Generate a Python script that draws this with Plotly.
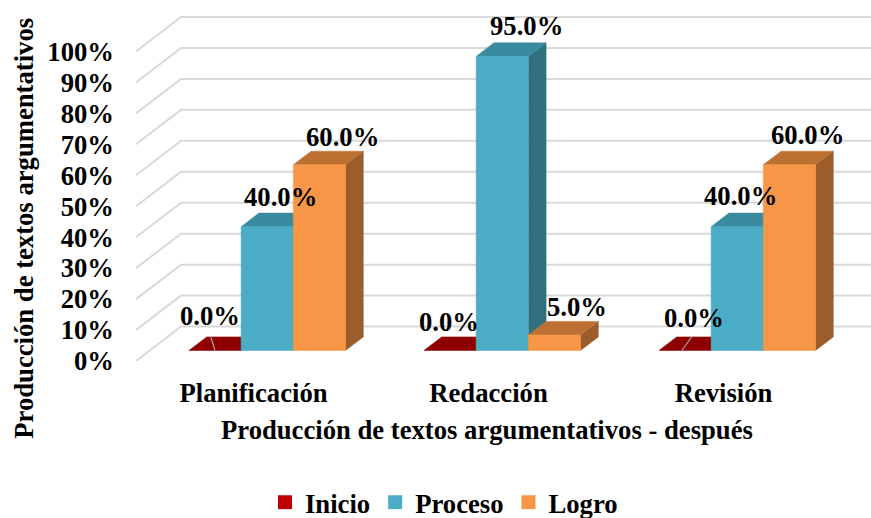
import plotly.graph_objects as go

categories = ["Planificación", "Redacción", "Revisión"]
series_names = ["Inicio", "Proceso", "Logro"]
inicio = [0, 0, 0]
proceso = [40, 95, 40]
logro = [60, 5, 60]
y_ticks = list(range(0, 101, 10))

FRONT = ["#C00000", "#4BACC6", "#F79646"]
TOP = ["#8E0000", "#3A8AA0", "#BC7132"]
SIDE = ["#7A0000", "#31707F", "#9C5D2B"]
GRID = "#D9D9D9"
FONT = "Liberation Serif"
SIZE = 26.67

# pixel scale of the drawing, used only to set up the projection
W, H = 871, 518
LEFT, BASE, TOPPX = 136, 361.5, 10
CAT_PX, PCT_PX = 235, 3.1
DX, DY = 45 / CAT_PX, 34.5 / PCT_PX      # full floor depth in axis units
BAR_W = 52.2 / CAT_PX
GAP, BAR_D = 0.305, 0.395                # bar start / bar depth, as share of floor depth

X0 = -0.5
X1 = X0 + (W - LEFT) / CAT_PX
Y1 = (BASE - TOPPX) / PCT_PX


def proj(x, y, d):
    return x + d * DX, y + d * DY


def poly(pts, color):
    xs = [p[0] for p in pts] + [pts[0][0]]
    ys = [p[1] for p in pts] + [pts[0][1]]
    return go.Scatter(x=xs, y=ys, mode="lines", fill="toself", fillcolor=color,
                      line=dict(color=color, width=0.5), showlegend=False,
                      hoverinfo="skip")


fig = go.Figure()

# walls: gridlines on the side and back planes
for v in y_ticks:
    a = proj(X0, v, 0)
    b = proj(X0, v, 1)
    fig.add_trace(go.Scatter(x=[a[0], b[0], X1 + 1], y=[a[1], b[1], b[1]], mode="lines",
                             line=dict(color=GRID, width=2), showlegend=False,
                             hoverinfo="skip"))

values = [inicio, proceso, logro]
labels_xshift = [[-5, -1, 9], [13, 24, 3], [23, 23, 18]]
labels_yshift = [[34, 28, 32], [30, 30, 31], [28, 28, 30]]
annotations = []

for c in range(len(categories)):
    for s in range(len(series_names)):
        v = values[s][c]
        xl = c + (s - 1.5) * BAR_W
        xr = xl + BAR_W
        f0 = GAP
        f1 = GAP + BAR_D
        if v > 0:
            fig.add_trace(poly([proj(xr, 0, f0), proj(xr, v, f0), proj(xr, v, f1), proj(xr, 0, f1)], SIDE[s]))
        fig.add_trace(poly([proj(xl, v, f0), proj(xr, v, f0), proj(xr, v, f1), proj(xl, v, f1)], TOP[s]))
        if v > 0:
            fig.add_trace(poly([proj(xl, 0, f0), proj(xr, 0, f0), proj(xr, v, f0), proj(xl, v, f0)], FRONT[s]))
        lx, ly = proj(xl + BAR_W / 2, v, f0)
        annotations.append(dict(x=lx, y=ly, xref="x", yref="y", text=f"<b>{v:.1f}%</b>",
                                showarrow=False, xanchor="center", yanchor="middle",
                                xshift=labels_xshift[s][c], yshift=labels_yshift[s][c],
                                font=dict(family=FONT, size=SIZE, color="black")))

# leader lines of the zero labels
for c, lean in [(0, -4.3), (2, 10.3)]:
    lx, ly = proj(c + (0 - 1.5) * BAR_W + BAR_W / 2, 0, GAP)
    if c == 2:
        lx -= 3.3 / CAT_PX
    fig.add_trace(go.Scatter(x=[lx, lx + lean / CAT_PX], y=[ly, ly + 14 / PCT_PX], mode="lines",
                             line=dict(color="#A6A6A6", width=1.2), showlegend=False,
                             hoverinfo="skip"))

# legend entries
for s, name in enumerate(series_names):
    fig.add_trace(go.Scatter(x=[None], y=[None], mode="markers", name=name,
                             marker=dict(symbol="square", size=14, color=FRONT[s])))

annotations.append(dict(x=(487 - LEFT) / (W - LEFT), y=(BASE - 431) / (BASE - TOPPX), xref="paper", yref="paper",
                        text="<b>Producción de textos argumentativos - después</b>", showarrow=False,
                        xanchor="center", yanchor="middle",
                        font=dict(family=FONT, size=SIZE, color="black")))
annotations.append(dict(x=(24 - LEFT) / (W - LEFT), y=(BASE - 229) / (BASE - TOPPX), xref="paper", yref="paper",
                        text="<b>Producción de textos argumentativos</b>", showarrow=False, textangle=-90,
                        xanchor="center", yanchor="middle",
                        font=dict(family=FONT, size=SIZE, color="black")))

fig.update_layout(
    width=W, height=H, autosize=False,
    margin=dict(l=LEFT, r=0, t=TOPPX, b=H - BASE, pad=0, autoexpand=False),
    paper_bgcolor="white", plot_bgcolor="white",
    font=dict(family=FONT, color="black"),
    annotations=annotations,
    legend=dict(orientation="h", x=(265 - LEFT) / (W - LEFT), xanchor="left",
                y=(BASE - 503) / (BASE - TOPPX), yanchor="middle",
                font=dict(family=FONT, size=SIZE, color="black", weight="bold"),
                bgcolor="rgba(0,0,0,0)", itemsizing="trace"),
    xaxis=dict(range=[X0, X1], tickvals=list(range(len(categories))), ticktext=categories,
               showgrid=False, zeroline=False, showline=False, ticks="",
               ticklabelstandoff=13, tickfont=dict(family=FONT, size=SIZE, color="black", weight="bold")),
    yaxis=dict(range=[0, Y1], tickvals=y_ticks, ticktext=[f"{v}%" for v in y_ticks],
               showgrid=False, zeroline=False, showline=False, ticks="",
               ticklabelstandoff=21, tickfont=dict(family=FONT, size=SIZE, color="black", weight="bold")),
)

fig.write_html("out.html", post_script="document.body.style.margin='0';",
               config=dict(displayModeBar=False))
